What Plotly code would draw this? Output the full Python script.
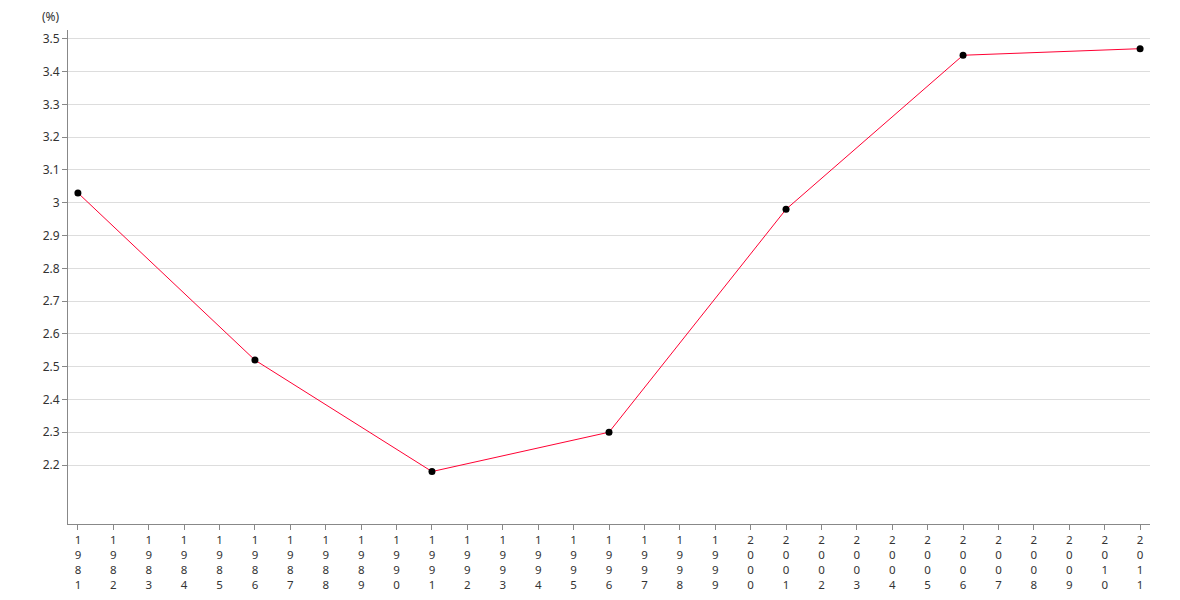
import plotly.graph_objects as go

years = list(range(1981, 2012))
point_years = [1981, 1986, 1991, 1996, 2001, 2006, 2011]
values = [3.03, 2.52, 2.18, 2.30, 2.98, 3.45, 3.47]
y_ticks = [2.2, 2.3, 2.4, 2.5, 2.6, 2.7, 2.8, 2.9, 3.0, 3.1, 3.2, 3.3, 3.4, 3.5]
y_tick_labels = ["2.2", "2.3", "2.4", "2.5", "2.6", "2.7", "2.8", "2.9", "3", "3.1", "3.2", "3.3", "3.4", "3.5"]
x_tick_labels = ["<br>".join(str(y)) for y in years]

fig = go.Figure()
fig.add_trace(go.Scatter(
    x=point_years, y=values, mode="lines+markers",
    line=dict(color="#ff0033", width=1),
    marker=dict(color="#000000", size=7),
    hoverinfo="x+y", showlegend=False,
))

fig.update_layout(
    width=1172, height=592,
    margin=dict(l=60, r=30, t=22, b=76),
    plot_bgcolor="white", paper_bgcolor="white",
    font=dict(family="Noto Sans, Open Sans, sans-serif", size=12, color="#333333"),
    xaxis=dict(
        range=[1980.72, 2011.28], tickmode="array", tickvals=years, ticktext=x_tick_labels,
        showgrid=False, zeroline=False, showline=True, linecolor="#888888", linewidth=1,
        ticks="outside", ticklen=5, tickcolor="#888888", tickangle=0,
        tickfont=dict(size=11.5, color="#333333"), fixedrange=True, automargin=False,
    ),
    yaxis=dict(
        range=[2.02, 3.527], tickmode="array", tickvals=y_ticks, ticktext=y_tick_labels,
        showgrid=True, gridcolor="#dddddd", gridwidth=1, zeroline=False,
        showline=True, linecolor="#888888", linewidth=1,
        ticks="outside", ticklen=5, tickcolor="#888888",
        tickfont=dict(size=12, color="#333333"), fixedrange=True, automargin=False,
    ),
    annotations=[dict(
        text="(%)", xref="paper", yref="paper", x=-0.006, y=1.0, yshift=14,
        xanchor="right", yanchor="middle", showarrow=False,
        font=dict(size=12, color="#333333"),
    )],
)

fig.write_html("out.html")
